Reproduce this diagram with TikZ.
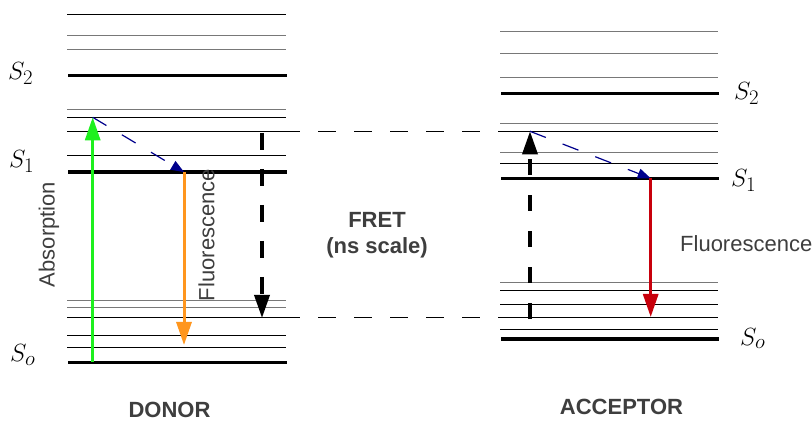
\documentclass[tikz,border=0pt]{standalone}
\usepackage{fontspec}
\setmainfont{Liberation Sans}
\usetikzlibrary{arrows.meta}
\definecolor{txtgray}{RGB}{62,62,62}
\definecolor{lvgray}{RGB}{120,120,120}
\definecolor{absgreen}{RGB}{30,240,30}
\definecolor{fluorange}{RGB}{255,150,30}
\definecolor{flured}{RGB}{200,0,12}
\definecolor{fretnavy}{RGB}{0,0,140}
\begin{document}
\begin{tikzpicture}[x=1pt,y=-1pt,
  thinlv/.style={line width=1pt,black},
  graylv/.style={line width=1pt,lvgray},
  thicklv/.style={line width=3.5pt,black},
  lab/.style={font=\fontsize{22}{26}\selectfont,text=txtgray,inner sep=0pt},
  blab/.style={font=\fontsize{22}{26}\selectfont\bfseries,text=txtgray,inner sep=0pt,align=center},
  slab/.style={font=\fontsize{30}{34}\selectfont,inner sep=0pt,anchor=base west},
  bigtip/.style={-{Triangle[length=23pt,width=15pt]}},
  smalltip/.style={-{Triangle[length=13pt,width=10pt]}},
  guide/.style={line width=1pt,black,dash pattern=on 18pt off 18pt}]
\useasboundingbox (0,0) rectangle (812,422);
\fill[white] (0,0) rectangle (812,422);
% donor levels
\draw[thinlv] (67,14.3) -- (286,14.3);
\draw[graylv] (67,35.7) -- (286,35.7);
\draw[graylv] (67,50) -- (286,50);
\draw[thicklv] (68,75.3) -- (287,75.3);
\draw[graylv] (67,109.7) -- (286,109.7);
\draw[thinlv] (67,117.3) -- (286,117.3);
\draw[thinlv] (67,131.7) -- (286,131.7);
\draw[thinlv] (67,155.7) -- (286,155.7);
\draw[thicklv] (68,172) -- (287,172);
\draw[graylv] (67,300.7) -- (286,300.7);
\draw[graylv] (67,308) -- (286,308);
\draw[thinlv] (67,318) -- (286,318);
\draw[thinlv] (67,336) -- (286,336);
\draw[thinlv] (67,347.3) -- (286,347.3);
\draw[thicklv] (68,362.3) -- (287,362.3);
% acceptor levels
\draw[graylv] (500,32) -- (718,32);
\draw[graylv] (500,53.3) -- (718,53.3);
\draw[graylv] (500,78) -- (718,78);
\draw[thicklv] (501,93.3) -- (719,93.3);
\draw[graylv] (500,123.7) -- (718,123.7);
\draw[thinlv] (500,131.3) -- (718,131.3);
\draw[graylv] (500,152.7) -- (718,152.7);
\draw[thinlv] (500,163.3) -- (718,163.3);
\draw[thicklv] (501,178.3) -- (719,178.3);
\draw[graylv] (500,283) -- (718,283);
\draw[thinlv] (500,290.3) -- (718,290.3);
\draw[thinlv] (500,304.3) -- (718,304.3);
\draw[thinlv] (500,318) -- (718,318);
\draw[thinlv] (500,329.7) -- (718,329.7);
\draw[thicklv] (501,339) -- (719,339);
% coordinates
\coordinate (dTopL) at (282,131.5);
\coordinate (dTopR) at (500,131.5);
\coordinate (dBotL) at (282,318);
\coordinate (dBotR) at (500,318);
\coordinate (absS) at (92.7,362);
\coordinate (absE) at (92.7,117.3);
\coordinate (dvr) at (184,172);
\coordinate (dfl) at (184,345);
\coordinate (fretS) at (262,133);
\coordinate (fretE) at (262,318);
\coordinate (accS) at (530,319);
\coordinate (accE) at (530,131.3);
\coordinate (avr) at (650.7,178.3);
\coordinate (afl) at (650.7,317);
% FRET guide lines
\draw[guide] (dTopL) -- (dTopR);
\draw[guide] (dBotL) -- (dBotR);
% arrows
\draw[absgreen,line width=3pt,bigtip] (absS) -- (absE);
\draw[fretnavy,line width=1.2pt,smalltip,dash pattern=on 16pt off 18pt] (absE) -- (dvr);
\draw[fluorange,line width=3pt,bigtip] (dvr) -- (dfl);
\draw[black,line width=3.5pt,bigtip,dash pattern=on 17pt off 19pt] (fretS) -- (fretE);
\draw[black,line width=3.5pt,bigtip,dash pattern=on 16pt off 20pt] (accS) -- (accE);
\draw[fretnavy,line width=1.2pt,smalltip,dash pattern=on 17pt off 18pt] (accE) -- (avr);
\draw[flured,line width=3pt,bigtip] (avr) -- (afl);
% state labels
\node[slab] (dS2) at (8,80) {$S_2$};
\node[slab] (dS1) at (9,168) {$S_1$};
\node[slab] (dS0) at (10,362) {$S_o$};
\node[slab] (aS2) at (734,100) {$S_2$};
\node[slab] (aS1) at (731,186.5) {$S_1$};
\node[slab] (aS0) at (740,345) {$S_o$};
% text labels
\node[lab,rotate=90] (absl) at (49,234.5) {Absorption};
\node[lab,rotate=90] (dfll) at (206.5,235) {Fluorescence};
\node[lab,anchor=west] (afll) at (680,244) {Fluorescence};
\node[blab] (fretl) at (377,235) {FRET\\(ns scale)};
\node[blab] (donl) at (169.5,410) {DONOR};
\node[blab] (accl) at (621.5,406.5) {ACCEPTOR};
\end{tikzpicture}
\end{document}
